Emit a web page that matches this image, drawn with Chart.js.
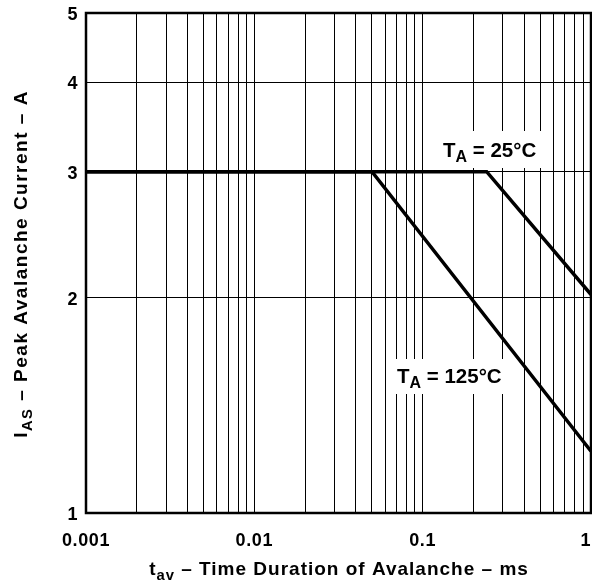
<!DOCTYPE html>
<html lang="en">
<head>
  <meta charset="UTF-8" />
  <title>Peak Avalanche Current vs Time</title>
  <script src="https://cdn.jsdelivr.net/npm/chart.js"></script>
  <style>
    body { margin: 0; background: #fff; }
    #wrap { width: 592px; height: 584px; }
  </style>
</head>
<body>
<div id="wrap"><canvas id="chart" width="592" height="584"></canvas></div>

<script>
  // curve data (tav in ms, IAS in A)
  const t25 = [0.001, 0.24, 1];
  const i25 = [3, 3, 2.02];
  const t125 = [0.001, 0.05, 1];
  const i125 = [3, 3, 1.22];

  // axis ticks
  const xGrid = [0.001, 0.002, 0.003, 0.004, 0.005, 0.006, 0.007, 0.008, 0.009,
                 0.01, 0.02, 0.03, 0.04, 0.05, 0.06, 0.07, 0.08, 0.09,
                 0.1, 0.2, 0.3, 0.4, 0.5, 0.6, 0.7, 0.8, 0.9, 1];
  const xTickValues = [0.001, 0.01, 0.1, 1];
  const xTickLabels = ['0.001', '0.01', '0.1', '1'];
  const yTickValues = [1, 2, 3, 4, 5];
  const yTickLabels = ['1', '2', '3', '4', '5'];

  const FONT = '"Liberation Sans", Arial, Helvetica, sans-serif';

  function toPts(xs, ys) { return xs.map((x, i) => ({ x: x, y: ys[i] })); }

  // text with subscript, returns width
  function subText(ctx, parts, x, y, size, measureOnly) {
    let cx = x;
    parts.forEach(p => {
      const s = p.sub ? size * 0.78 : size;
      ctx.font = 'bold ' + s + 'px ' + FONT;
      if (!measureOnly) ctx.fillText(p.t, cx, p.sub ? y + size * 0.24 : y);
      cx += ctx.measureText(p.t).width;
    });
    return cx - x;
  }

  const overlay = {
    id: 'overlay',
    afterDraw(chart) {
      const ctx = chart.ctx;
      const a = chart.chartArea;
      const xs = chart.scales.x, ys = chart.scales.y;
      ctx.save();
      // frame
      ctx.strokeStyle = '#000';
      ctx.lineWidth = 2.5;
      ctx.strokeRect(a.left, a.top, a.right - a.left, a.bottom - a.top);

      ctx.fillStyle = '#000';
      ctx.textBaseline = 'alphabetic';
      ctx.letterSpacing = '0.6px';
      // y tick labels
      ctx.font = 'bold 18px ' + FONT;
      ctx.textAlign = 'right';
      yTickValues.forEach((v, i) => {
        ctx.fillText(yTickLabels[i], a.left - 8, ys.getPixelForValue(v) + 7);
      });
      // x tick labels
      ctx.textAlign = 'center';
      xTickValues.forEach((v, i) => {
        let px = xs.getPixelForValue(v);
        const w = ctx.measureText(xTickLabels[i]).width;
        px = Math.min(px, chart.width - w / 2 - 1);
        ctx.fillText(xTickLabels[i], px, a.bottom + 33);
      });

      // curve labels with white boxes
      ctx.textAlign = 'left';
      ctx.letterSpacing = '0px';
      const labels = [
        { parts: [{ t: 'T' }, { t: 'A', sub: true }, { t: ' = 25°C' }], x: 443, y: 157, box: [435, 131, 110, 37] },
        { parts: [{ t: 'T' }, { t: 'A', sub: true }, { t: ' = 125°C' }], x: 397, y: 383, box: [391, 359, 114, 35] }
      ];
      labels.forEach(l => {
        ctx.fillStyle = '#fff';
        ctx.fillRect(l.box[0], l.box[1], l.box[2], l.box[3]);
        ctx.fillStyle = '#000';
        subText(ctx, l.parts, l.x, l.y, 20.5);
      });

      // axis titles
      ctx.letterSpacing = '1px';
      const xt = [{ t: 't' }, { t: 'av', sub: true }, { t: ' – Time Duration of Avalanche – ms' }];
      const xw = subText(ctx, xt, 0, 0, 19, true);
      subText(ctx, xt, 339 - xw / 2, 575, 19);

      ctx.letterSpacing = '1.5px';
      const yt = [{ t: 'I' }, { t: 'AS', sub: true }, { t: ' – Peak Avalanche Current – A' }];
      const yw = subText(ctx, yt, 0, 0, 19, true);
      ctx.translate(27, 264);
      ctx.rotate(-Math.PI / 2);
      subText(ctx, yt, -yw / 2, 0, 19);
      ctx.restore();
    }
  };

  new Chart(document.getElementById('chart'), {
    type: 'line',
    data: {
      datasets: [
        { label: 'TA = 25°C', data: toPts(t25, i25), borderColor: '#000', borderWidth: 3.5, pointRadius: 0, fill: false, tension: 0 },
        { label: 'TA = 125°C', data: toPts(t125, i125), borderColor: '#000', borderWidth: 3.5, pointRadius: 0, fill: false, tension: 0 }
      ]
    },
    options: {
      responsive: false,
      animation: false,
      layout: { padding: { left: 86, top: 13, right: 1, bottom: 71 } },
      plugins: { legend: { display: false }, tooltip: { enabled: false } },
      scales: {
        x: {
          type: 'logarithmic', min: 0.001, max: 1,
          afterBuildTicks: s => { s.ticks = xGrid.map(v => ({ value: v })); },
          ticks: { display: false },
          grid: { color: '#000', lineWidth: 1, drawTicks: false },
          border: { display: false }
        },
        y: {
          type: 'logarithmic', min: 1, max: 5,
          afterBuildTicks: s => { s.ticks = yTickValues.map(v => ({ value: v })); },
          ticks: { display: false },
          grid: { color: '#000', lineWidth: 1, drawTicks: false },
          border: { display: false }
        }
      }
    },
    plugins: [overlay]
  });
</script>
</body>
</html>
